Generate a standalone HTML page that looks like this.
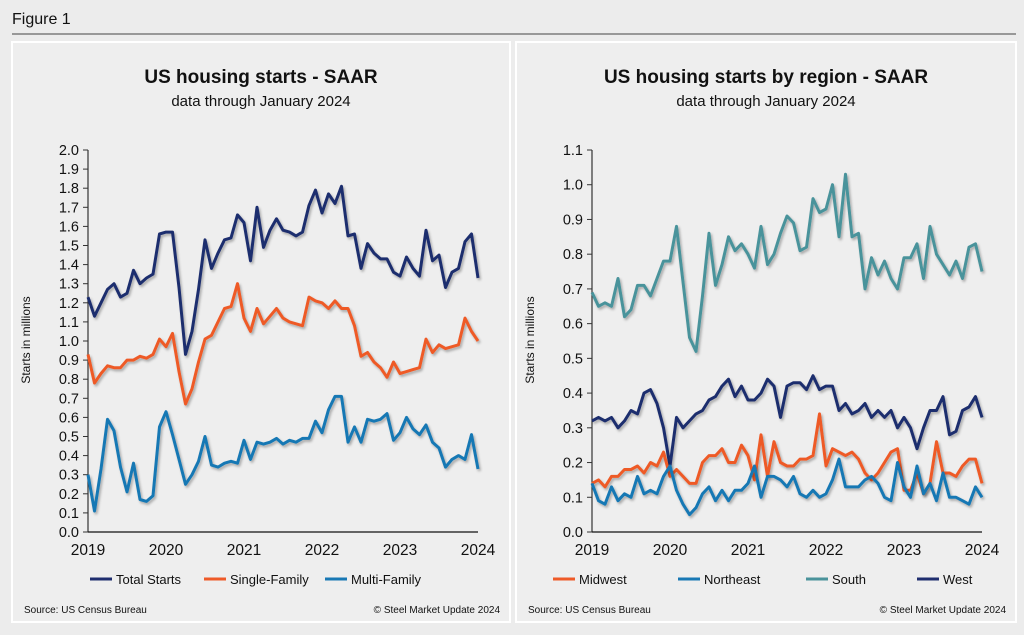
<!DOCTYPE html>
<html><head><meta charset="utf-8">
<style>
body{margin:0;width:1024px;height:630px;background:#ececec;font-family:"Liberation Sans",sans-serif;overflow:hidden}
</style></head>
<body>
<svg id="s" width="1024" height="630" xmlns="http://www.w3.org/2000/svg">
<defs><filter id="sh" x="-5%" y="-5%" width="110%" height="120%"><feDropShadow dx="1.5" dy="2" stdDeviation="1.2" flood-color="#000" flood-opacity="0.3"/></filter></defs>
<rect width="1024" height="630" fill="#ececec"/>
<text x="12" y="24" font-size="16" fill="#111">Figure 1</text>
<line x1="12" y1="34" x2="1016" y2="34" stroke="#444" stroke-width="1"/>
<rect x="12" y="42" width="498" height="580" fill="#eeeeee" stroke="#fff" stroke-width="2"/>
<rect x="516" y="42" width="500" height="580" fill="#eeeeee" stroke="#fff" stroke-width="2"/>
<g id="L"></g><g id="R"></g>
</svg>
<script>
const years=["2019","2020","2021","2022","2023","2024"];
const totalStarts=[1.23,1.13,1.20,1.27,1.30,1.23,1.25,1.37,1.30,1.33,1.35,1.56,1.57,1.57,1.28,0.93,1.05,1.27,1.53,1.38,1.46,1.53,1.54,1.66,1.62,1.42,1.70,1.49,1.58,1.64,1.58,1.57,1.55,1.57,1.71,1.79,1.67,1.77,1.72,1.81,1.55,1.56,1.38,1.51,1.46,1.43,1.43,1.36,1.34,1.44,1.38,1.34,1.58,1.42,1.45,1.28,1.36,1.38,1.52,1.56,1.33];
const singleFamily=[0.93,0.78,0.83,0.87,0.86,0.86,0.90,0.90,0.92,0.91,0.93,1.01,0.97,1.04,0.84,0.67,0.75,0.89,1.01,1.03,1.10,1.17,1.18,1.30,1.12,1.05,1.17,1.09,1.13,1.17,1.12,1.10,1.09,1.08,1.23,1.21,1.20,1.17,1.21,1.17,1.17,1.08,0.92,0.94,0.89,0.86,0.81,0.89,0.83,0.84,0.85,0.86,1.01,0.94,0.98,0.96,0.97,0.98,1.12,1.05,1.00];
const multiFamily=[0.30,0.11,0.33,0.59,0.53,0.34,0.21,0.36,0.17,0.16,0.19,0.55,0.63,0.51,0.38,0.25,0.30,0.37,0.50,0.35,0.34,0.36,0.37,0.36,0.48,0.38,0.47,0.46,0.47,0.49,0.46,0.48,0.47,0.49,0.49,0.58,0.52,0.64,0.71,0.71,0.47,0.55,0.47,0.59,0.58,0.59,0.62,0.48,0.52,0.60,0.54,0.51,0.56,0.47,0.44,0.34,0.38,0.40,0.38,0.51,0.33];
const south=[0.69,0.65,0.66,0.65,0.73,0.62,0.64,0.71,0.71,0.68,0.73,0.78,0.78,0.88,0.72,0.56,0.52,0.68,0.86,0.71,0.77,0.85,0.81,0.83,0.80,0.76,0.88,0.77,0.80,0.86,0.91,0.89,0.81,0.82,0.96,0.92,0.93,1.00,0.85,1.03,0.85,0.86,0.70,0.79,0.74,0.78,0.73,0.70,0.79,0.79,0.83,0.73,0.88,0.80,0.77,0.74,0.78,0.73,0.82,0.83,0.75];
const west=[0.32,0.33,0.32,0.33,0.30,0.32,0.35,0.34,0.40,0.41,0.37,0.30,0.19,0.33,0.30,0.32,0.34,0.35,0.38,0.39,0.42,0.44,0.39,0.42,0.38,0.38,0.40,0.44,0.42,0.33,0.42,0.43,0.43,0.41,0.45,0.41,0.42,0.42,0.35,0.37,0.34,0.35,0.37,0.33,0.35,0.33,0.35,0.30,0.33,0.30,0.24,0.30,0.35,0.35,0.39,0.28,0.29,0.35,0.36,0.39,0.33];
const midwest=[0.14,0.15,0.13,0.16,0.16,0.18,0.18,0.19,0.17,0.20,0.19,0.23,0.16,0.18,0.16,0.14,0.14,0.20,0.22,0.22,0.24,0.20,0.20,0.25,0.22,0.15,0.28,0.16,0.26,0.20,0.19,0.19,0.21,0.21,0.22,0.34,0.19,0.24,0.23,0.22,0.23,0.21,0.17,0.15,0.17,0.20,0.23,0.24,0.12,0.12,0.17,0.11,0.14,0.26,0.17,0.17,0.16,0.19,0.21,0.21,0.14];
const northeast=[0.14,0.09,0.08,0.13,0.09,0.11,0.10,0.16,0.11,0.12,0.11,0.16,0.19,0.12,0.08,0.05,0.07,0.11,0.13,0.09,0.12,0.09,0.12,0.12,0.14,0.19,0.10,0.16,0.16,0.15,0.13,0.16,0.11,0.10,0.12,0.10,0.11,0.15,0.21,0.13,0.13,0.13,0.15,0.16,0.14,0.10,0.09,0.20,0.13,0.10,0.19,0.11,0.14,0.09,0.17,0.10,0.10,0.09,0.08,0.13,0.10];
const NS="http://www.w3.org/2000/svg";
function mk(p,t,a,txt){const e=document.createElementNS(NS,t);for(const k in a)e.setAttribute(k,a[k]);if(txt!==undefined)e.textContent=txt;p.appendChild(e);return e;}
function chart(g,o){
  const x0=o.x0,x1=o.x0+390,y0=532,y1=150;
  const xs=i=>x0+(x1-x0)*i/60, ys=v=>y0-(y0-y1)*v/o.max;
  const cx=(o.px+o.pw/2);
  let t=mk(g,'text',{x:cx,y:83,'text-anchor':'middle','font-size':19,'font-weight':'bold',fill:'#111'},o.title);
  
  t=mk(g,'text',{x:cx,y:106,'text-anchor':'middle','font-size':15,fill:'#111'},'data through January 2024');
  
  t=mk(g,'text',{x:0,y:0,transform:`translate(${o.px+18},340) rotate(-90)`,'text-anchor':'middle','font-size':12,fill:'#111'},'Starts in millions');
  
  const n=Math.round(o.max/0.1);
  for(let k=0;k<=n;k++){const v=k*0.1,y=ys(v);
    mk(g,'line',{x1:x0-5,y1:y,x2:x0,y2:y,stroke:'#333'});
    t=mk(g,'text',{x:x0-9,y:y+5,'text-anchor':'end','font-size':14.5,fill:'#111'},v.toFixed(1));
    }
  mk(g,'line',{x1:x0,y1:y1,x2:x0,y2:y0,stroke:'#333','stroke-width':1.2});
  mk(g,'line',{x1:x0,y1:y0,x2:x1,y2:y0,stroke:'#111','stroke-width':1.2});
  years.forEach((yr,i)=>{t=mk(g,'text',{x:xs(i*12),y:555,'text-anchor':'middle','font-size':15.5,fill:'#111'},yr);
    });
  o.series.forEach(s=>{
    const d=s.data.map((v,i)=>(i?'L':'M')+xs(i).toFixed(1)+' '+ys(v).toFixed(1)).join('');
    const p=mk(g,'path',{d:d,fill:'none',stroke:s.c,'stroke-width':3,'stroke-linejoin':'round',filter:'url(#sh)'});
    });
  o.legend.forEach(l=>{
    const lg=mk(g,'g',{});
    
    mk(lg,'line',{x1:l.x,y1:579,x2:l.x+22,y2:579,stroke:l.c,'stroke-width':3});
    mk(lg,'text',{x:l.x+26,y:584,'font-size':13,fill:'#111'},l.name);});
  t=mk(g,'text',{x:o.px+12,y:613,'font-size':10,fill:'#111'},'Source: US Census Bureau');
  
  t=mk(g,'text',{x:o.px+o.pw-10,y:613,'text-anchor':'end','font-size':10,fill:'#111'},'© Steel Market Update 2024');
  
}
chart(document.getElementById('L'),{x0:88,max:2.0,px:12,pw:498,title:'US housing starts - SAAR',
 series:[{id:'total-starts',data:totalStarts,c:'#1f2d6e'},{id:'single-family',data:singleFamily,c:'#ee5a28'},{id:'multi-family',data:multiFamily,c:'#1878b4'}],
 legend:[{id:'total-starts',name:'Total Starts',x:90,c:'#1f2d6e'},{id:'single-family',name:'Single-Family',x:204,c:'#ee5a28'},{id:'multi-family',name:'Multi-Family',x:325,c:'#1878b4'}]});
chart(document.getElementById('R'),{x0:592,max:1.1,px:516,pw:500,title:'US housing starts by region - SAAR',
 series:[{id:'south',data:south,c:'#4a939b'},{id:'west',data:west,c:'#1f2d6e'},{id:'midwest',data:midwest,c:'#ee5a28'},{id:'northeast',data:northeast,c:'#1878b4'}],
 legend:[{id:'midwest',name:'Midwest',x:553,c:'#ee5a28'},{id:'northeast',name:'Northeast',x:678,c:'#1878b4'},{id:'south',name:'South',x:806,c:'#4a939b'},{id:'west',name:'West',x:917,c:'#1f2d6e'}]});
</script>
</body></html>
